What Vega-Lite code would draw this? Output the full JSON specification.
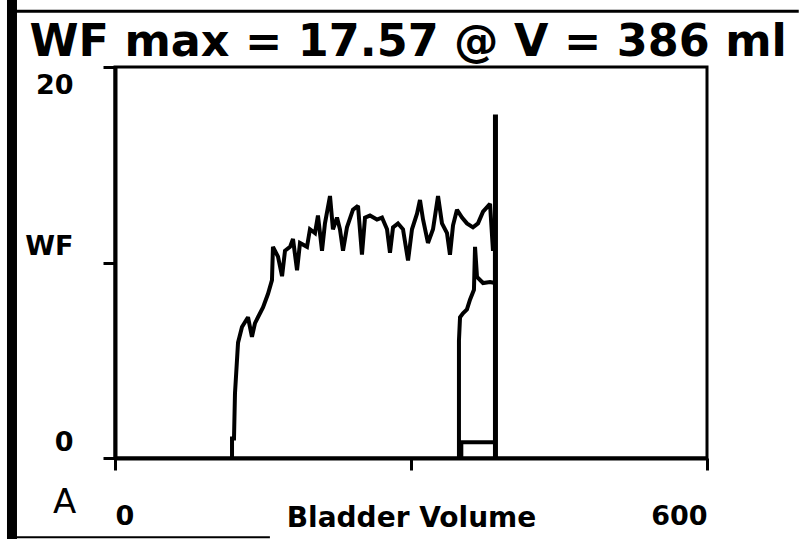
{
  "$schema": "https://vega.github.io/schema/vega-lite/v6.json",
  "width": 592,
  "height": 391,
  "autosize": {"type": "none"},
  "padding": {"left": 115, "top": 67, "right": 92, "bottom": 81},
  "background": "white",
  "config": {
    "view": {"stroke": "black", "strokeWidth": 3},
    "axis": {"grid": false, "domainColor": "black", "tickColor": "black", "labelColor": "black", "titleColor": "black"}
  },
  "resolve": {"axis": {"x": "independent"}},
  "datasets": {
    "curve": [
      {"seg": "main", "i": 0, "vol": 118.6, "wf": 0},
      {"seg": "main", "i": 1, "vol": 118.6, "wf": 1.0},
      {"seg": "main", "i": 2, "vol": 120.6, "wf": 1.0},
      {"seg": "main", "i": 3, "vol": 121.6, "wf": 3.3},
      {"seg": "main", "i": 4, "vol": 124.7, "wf": 5.9},
      {"seg": "main", "i": 5, "vol": 128.7, "wf": 6.7},
      {"seg": "main", "i": 6, "vol": 134.8, "wf": 7.2},
      {"seg": "main", "i": 7, "vol": 138.8, "wf": 6.2},
      {"seg": "main", "i": 8, "vol": 141.9, "wf": 6.9},
      {"seg": "main", "i": 9, "vol": 144.9, "wf": 7.2},
      {"seg": "main", "i": 10, "vol": 150.0, "wf": 7.7},
      {"seg": "main", "i": 11, "vol": 155.1, "wf": 8.4},
      {"seg": "main", "i": 12, "vol": 159.1, "wf": 9.1},
      {"seg": "main", "i": 13, "vol": 160.1, "wf": 10.8},
      {"seg": "main", "i": 14, "vol": 165.2, "wf": 10.3},
      {"seg": "main", "i": 15, "vol": 169.3, "wf": 9.3},
      {"seg": "main", "i": 16, "vol": 172.3, "wf": 10.6},
      {"seg": "main", "i": 17, "vol": 177.4, "wf": 10.8},
      {"seg": "main", "i": 18, "vol": 180.4, "wf": 11.2},
      {"seg": "main", "i": 19, "vol": 184.5, "wf": 9.6},
      {"seg": "main", "i": 20, "vol": 187.5, "wf": 11.0},
      {"seg": "main", "i": 21, "vol": 194.6, "wf": 10.8},
      {"seg": "main", "i": 22, "vol": 197.6, "wf": 11.7},
      {"seg": "main", "i": 23, "vol": 202.7, "wf": 11.5},
      {"seg": "main", "i": 24, "vol": 205.7, "wf": 12.4},
      {"seg": "main", "i": 25, "vol": 209.8, "wf": 10.6},
      {"seg": "main", "i": 26, "vol": 212.8, "wf": 12.0},
      {"seg": "main", "i": 27, "vol": 217.9, "wf": 13.4},
      {"seg": "main", "i": 28, "vol": 220.9, "wf": 11.7},
      {"seg": "main", "i": 29, "vol": 225.0, "wf": 12.3},
      {"seg": "main", "i": 30, "vol": 228.0, "wf": 11.7},
      {"seg": "main", "i": 31, "vol": 231.1, "wf": 10.6},
      {"seg": "main", "i": 32, "vol": 235.1, "wf": 11.8},
      {"seg": "main", "i": 33, "vol": 241.2, "wf": 12.7},
      {"seg": "main", "i": 34, "vol": 246.3, "wf": 12.9},
      {"seg": "main", "i": 35, "vol": 250.3, "wf": 10.4},
      {"seg": "main", "i": 36, "vol": 253.4, "wf": 12.3},
      {"seg": "main", "i": 37, "vol": 258.4, "wf": 12.4},
      {"seg": "main", "i": 38, "vol": 265.5, "wf": 12.2},
      {"seg": "main", "i": 39, "vol": 270.6, "wf": 12.3},
      {"seg": "main", "i": 40, "vol": 275.7, "wf": 11.7},
      {"seg": "main", "i": 41, "vol": 278.7, "wf": 10.5},
      {"seg": "main", "i": 42, "vol": 281.8, "wf": 11.8},
      {"seg": "main", "i": 43, "vol": 286.8, "wf": 12.0},
      {"seg": "main", "i": 44, "vol": 291.9, "wf": 11.7},
      {"seg": "main", "i": 45, "vol": 297.0, "wf": 10.1},
      {"seg": "main", "i": 46, "vol": 301.0, "wf": 11.7},
      {"seg": "main", "i": 47, "vol": 306.1, "wf": 12.5},
      {"seg": "main", "i": 48, "vol": 309.1, "wf": 13.2},
      {"seg": "main", "i": 49, "vol": 312.2, "wf": 12.2},
      {"seg": "main", "i": 50, "vol": 317.2, "wf": 11.0},
      {"seg": "main", "i": 51, "vol": 322.3, "wf": 11.7},
      {"seg": "main", "i": 52, "vol": 327.4, "wf": 13.4},
      {"seg": "main", "i": 53, "vol": 331.4, "wf": 12.0},
      {"seg": "main", "i": 54, "vol": 336.5, "wf": 11.5},
      {"seg": "main", "i": 55, "vol": 339.5, "wf": 10.4},
      {"seg": "main", "i": 56, "vol": 342.6, "wf": 11.9},
      {"seg": "main", "i": 57, "vol": 346.6, "wf": 12.7},
      {"seg": "main", "i": 58, "vol": 351.7, "wf": 12.3},
      {"seg": "main", "i": 59, "vol": 356.7, "wf": 12.0},
      {"seg": "main", "i": 60, "vol": 362.8, "wf": 11.8},
      {"seg": "main", "i": 61, "vol": 367.9, "wf": 12.0},
      {"seg": "main", "i": 62, "vol": 373.0, "wf": 12.6},
      {"seg": "main", "i": 63, "vol": 380.1, "wf": 13.0},
      {"seg": "main", "i": 64, "vol": 383.1, "wf": 10.6},
      {"seg": "main", "i": 65, "vol": 385.1, "wf": 11.2},
      {"seg": "main", "i": 66, "vol": 385.1, "wf": 8.95},
      {"seg": "main", "i": 67, "vol": 380.1, "wf": 9.0},
      {"seg": "main", "i": 68, "vol": 373.0, "wf": 8.95},
      {"seg": "main", "i": 69, "vol": 366.9, "wf": 9.26},
      {"seg": "main", "i": 70, "vol": 364.9, "wf": 10.8},
      {"seg": "main", "i": 71, "vol": 363.8, "wf": 8.6},
      {"seg": "main", "i": 72, "vol": 359.8, "wf": 8.1},
      {"seg": "main", "i": 73, "vol": 356.7, "wf": 7.6},
      {"seg": "main", "i": 74, "vol": 352.7, "wf": 7.4},
      {"seg": "main", "i": 75, "vol": 349.7, "wf": 7.2},
      {"seg": "main", "i": 76, "vol": 348.6, "wf": 6.0},
      {"seg": "main", "i": 77, "vol": 348.6, "wf": 0},
      {"seg": "box", "i": 0, "vol": 351.0, "wf": 0},
      {"seg": "box", "i": 1, "vol": 351.0, "wf": 0.8},
      {"seg": "box", "i": 2, "vol": 384.0, "wf": 0.8}
    ],
    "marker": [{"vol": 385.6, "wf": 0, "wf2": 17.57}],
    "vframe": [{"vol": -104.4, "wf": -4.2, "wf2": 23.45}],
    "hframe": [
      {"vol": -104.4, "vol2": 693, "wf": 22.85, "w": 3},
      {"vol": -104.4, "vol2": 157, "wf": -4.05, "w": 2}
    ]
  },
  "layer": [
    {
      "data": {"name": "curve"},
      "mark": {"type": "line", "color": "black", "strokeWidth": 4, "strokeJoin": "miter", "strokeMiterLimit": 2},
      "encoding": {
        "x": {
          "field": "vol", "type": "quantitative",
          "scale": {"domain": [0, 600], "nice": false, "zero": false},
          "axis": {
            "orient": "bottom",
            "values": [0, 300, 600],
            "labelExpr": "datum.value == 300 ? '' : datum.label",
            "domainWidth": 4,
            "tickSize": 12,
            "tickWidth": 3,
            "labelPadding": 33,
            "labelBaseline": "top",
            "labelFont": "DejaVu Sans",
            "labelFontSize": 27,
            "labelFontWeight": "bold",
            "title": "Bladder Volume",
            "titleFont": "DejaVu Sans",
            "titleFontSize": 28,
            "titleFontWeight": "bold",
            "titleBaseline": "top",
            "titleY": 46
          }
        },
        "y": {
          "field": "wf", "type": "quantitative",
          "scale": {"domain": [0, 20], "nice": false, "zero": false},
          "axis": {
            "values": [0, 10, 20],
            "labelExpr": "datum.value == 10 ? 'WF' : datum.label",
            "domainWidth": 4,
            "tickSize": 12,
            "tickWidth": 3,
            "labelPadding": 30,
            "labelFont": "DejaVu Sans",
            "labelFontSize": 27,
            "labelFontWeight": "bold",
            "labelBaseline": {"condition": {"test": "datum.value == 20", "value": "top"}, "value": "bottom"},
            "labelOffset": {"condition": {"test": "datum.value == 20", "value": 5}, "value": -2},
            "title": "A",
            "titleAngle": 0,
            "titleX": -51,
            "titleY": 418,
            "titleAlign": "center",
            "titleBaseline": "top",
            "titleFont": "DejaVu Sans",
            "titleFontSize": 34,
            "titleFontWeight": "normal"
          }
        },
        "detail": {"field": "seg"},
        "order": {"field": "i", "type": "quantitative"}
      }
    },
    {
      "data": {"name": "marker"},
      "mark": {"type": "rule", "color": "black", "strokeWidth": 5},
      "encoding": {
        "x": {
          "field": "vol", "type": "quantitative",
          "scale": {"domain": [0, 600], "nice": false, "zero": false},
          "axis": {
            "orient": "top",
            "domain": false,
            "ticks": false,
            "labels": false,
            "grid": false,
            "title": "WF max = 17.57 @ V = 386 ml",
            "titleX": -86,
            "titleY": -12,
            "titleAlign": "left",
            "titleAnchor": "start",
            "titleBaseline": "alphabetic",
            "titleFont": "DejaVu Sans",
            "titleFontSize": 44.5,
            "titleFontWeight": "bold"
          }
        },
        "y": {"field": "wf", "type": "quantitative", "scale": {"domain": [0, 20], "nice": false, "zero": false}},
        "y2": {"field": "wf2"}
      }
    },
    {
      "data": {"name": "vframe"},
      "mark": {"type": "rule", "color": "black", "strokeWidth": 10, "clip": false},
      "encoding": {
        "x": {"field": "vol", "type": "quantitative", "scale": {"domain": [0, 600], "nice": false, "zero": false}, "axis": null},
        "y": {"field": "wf", "type": "quantitative", "scale": {"domain": [0, 20], "nice": false, "zero": false}},
        "y2": {"field": "wf2"}
      }
    },
    {
      "data": {"name": "hframe"},
      "mark": {"type": "rule", "color": "black", "clip": false},
      "encoding": {
        "x": {"field": "vol", "type": "quantitative", "scale": {"domain": [0, 600], "nice": false, "zero": false}, "axis": null},
        "x2": {"field": "vol2"},
        "y": {"field": "wf", "type": "quantitative", "scale": {"domain": [0, 20], "nice": false, "zero": false}},
        "strokeWidth": {"field": "w", "type": "quantitative", "scale": null}
      }
    }
  ]
}
